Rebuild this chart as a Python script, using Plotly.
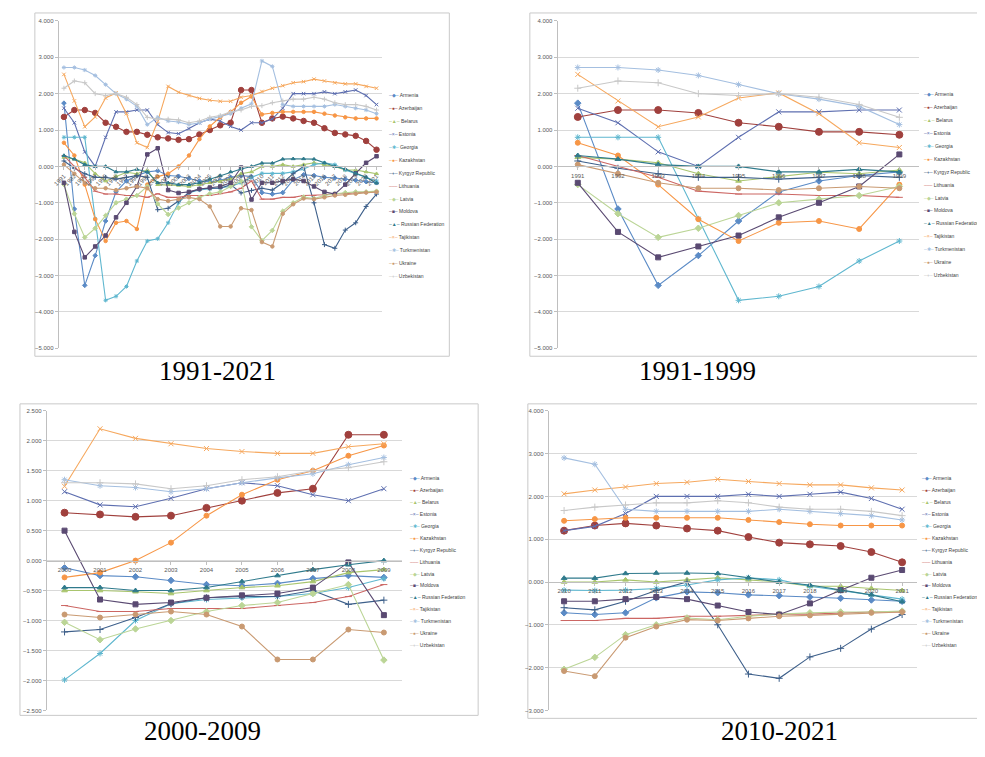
import plotly.graph_objects as go

W, H = 985, 757

countries = ["Armenia", "Azerbaijan", "Belarus", "Estonia", "Georgia", "Kazakhstan",
             "Kyrgyz Republic", "Lithuania", "Latvia", "Moldova", "Russian Federation",
             "Tajikistan", "Turkmenistan", "Ukraine", "Uzbekistan"]
years = [str(y) for y in range(1991, 2022)]

# values, 1991..2021
armenia = [1.74, -1.17, -3.27, -2.45, -1.50, -0.70, -0.40, -0.25, -0.15,
           -0.12, -0.25, -0.27, -0.33, -0.40, -0.42, -0.38, -0.30, -0.25, -0.28,
           -0.72, -0.76, -0.72, -0.37, -0.23, -0.25, -0.30, -0.32, -0.35, -0.38, -0.42, -0.45]
azerbaijan = [1.36, 1.55, 1.55, 1.47, 1.20, 1.09, 0.95, 0.95, 0.87,
              0.80, 0.77, 0.73, 0.75, 0.88, 1.00, 1.13, 1.20, 2.10, 2.10,
              1.20, 1.32, 1.37, 1.32, 1.25, 1.20, 1.05, 0.92, 0.88, 0.84, 0.70, 0.46]
belarus = [0.25, 0.20, 0.10, -0.20, -0.40, -0.27, -0.16, -0.20, -0.10,
           -0.50, -0.50, -0.52, -0.55, -0.50, -0.45, -0.42, -0.35, -0.20, -0.15,
           0.00, 0.00, 0.05, 0.00, 0.05, 0.10, 0.05, 0.00, -0.10, -0.10, -0.15, -0.20]
estonia = [1.60, 1.20, 0.40, 0.00, 0.80, 1.50, 1.50, 1.55, 1.55,
           1.15, 0.93, 0.90, 1.04, 1.20, 1.30, 1.25, 1.10, 1.00, 1.20,
           1.20, 1.30, 1.60, 2.00, 2.00, 2.00, 2.05, 2.00, 2.05, 2.10, 1.95, 1.70]
georgia = [0.80, 0.80, 0.80, -1.44, -3.68, -3.57, -3.30, -2.60, -2.05,
           -1.99, -1.55, -1.00, -0.72, -0.65, -0.62, -0.60, -0.55, -0.45, -0.30,
           -0.19, -0.20, -0.19, -0.15, -0.07, 0.05, 0.10, 0.05, -0.10, -0.20, -0.30, -0.40]
kazakhstan = [0.65, 0.30, -0.50, -1.45, -2.05, -1.55, -1.50, -1.72, -0.50,
              -0.28, -0.20, 0.00, 0.30, 0.75, 1.10, 1.35, 1.50, 1.75, 1.92,
              1.43, 1.47, 1.50, 1.50, 1.50, 1.50, 1.45, 1.40, 1.35, 1.32, 1.32, 1.32]
kyrgyz = [0.15, -0.05, -0.20, -0.30, -0.30, -0.35, -0.30, -0.25, -0.30,
          -1.19, -1.15, -0.95, -0.72, -0.62, -0.60, -0.60, -0.50, -0.73, -0.66,
          -0.60, -0.65, -0.45, -0.20, 0.00, -1.00, -2.15, -2.25, -1.75, -1.55, -1.10, -0.76]
lithuania = [0.30, 0.00, -0.30, -0.68, -0.76, -0.76, -0.80, -0.80, -0.85,
             -0.75, -0.85, -0.85, -0.80, -0.80, -0.80, -0.75, -0.70, -0.60, -0.40,
             -0.90, -0.90, -0.85, -0.85, -0.80, -0.80, -0.78, -0.75, -0.75, -0.72, -0.70, -0.70]
latvia = [-0.50, -1.30, -1.95, -1.70, -1.35, -1.00, -0.90, -0.80, -0.55,
          -1.03, -1.32, -1.14, -1.00, -0.85, -0.75, -0.70, -0.55, -0.40, -1.66,
          -2.04, -1.76, -1.23, -1.00, -0.84, -0.88, -0.80, -0.75, -0.72, -0.70, -0.70, -0.68]
moldova = [-0.45, -1.80, -2.50, -2.20, -1.90, -1.40, -1.00, -0.55, 0.33,
           0.50, -0.65, -0.73, -0.70, -0.62, -0.58, -0.55, -0.45, -0.03, -0.91,
           -0.45, -0.45, -0.40, -0.35, -0.40, -0.55, -0.70, -0.76, -0.50, -0.19, 0.10, 0.28]
russia = [0.30, 0.20, 0.05, 0.00, 0.00, -0.15, -0.15, -0.08, -0.15,
          -0.45, -0.45, -0.50, -0.50, -0.45, -0.35, -0.25, -0.15, -0.07, 0.00,
          0.09, 0.09, 0.20, 0.21, 0.21, 0.20, 0.10, 0.00, -0.07, -0.19, -0.30, -0.46]
tajikistan = [2.53, 1.80, 1.09, 1.36, 1.88, 2.02, 1.45, 0.65, 0.52,
              1.24, 2.20, 2.04, 1.95, 1.87, 1.82, 1.79, 1.79, 1.90, 1.95,
              2.06, 2.15, 2.22, 2.30, 2.33, 2.40, 2.35, 2.30, 2.27, 2.27, 2.20, 2.15]
turkmenistan = [2.72, 2.72, 2.65, 2.50, 2.25, 2.00, 1.85, 1.65, 1.15,
                1.35, 1.25, 1.22, 1.15, 1.20, 1.30, 1.38, 1.45, 1.60, 1.72,
                2.90, 2.75, 1.70, 1.65, 1.65, 1.65, 1.65, 1.70, 1.65, 1.60, 1.55, 1.45]
ukraine = [0.05, -0.20, -0.45, -0.60, -0.60, -0.65, -0.60, -0.55, -0.60,
           -0.90, -0.95, -0.90, -0.85, -0.90, -1.10, -1.65, -1.65, -1.15, -1.20,
           -2.08, -2.20, -1.30, -1.04, -0.88, -0.90, -0.85, -0.80, -0.78, -0.75, -0.72, -0.70]
uzbekistan = [2.15, 2.35, 2.30, 2.00, 1.95, 2.00, 1.90, 1.70, 1.35,
              1.30, 1.30, 1.28, 1.20, 1.25, 1.35, 1.40, 1.50, 1.55, 1.65,
              1.67, 1.75, 1.80, 1.85, 1.85, 1.90, 1.85, 1.75, 1.70, 1.70, 1.65, 1.55]

series = [armenia, azerbaijan, belarus, estonia, georgia, kazakhstan, kyrgyz, lithuania,
          latvia, moldova, russia, tajikistan, turkmenistan, ukraine, uzbekistan]

colors = ["#5B8BC6", "#A0403D", "#A9C56E", "#5E6FB0", "#5FB7CF", "#F79646", "#3D5F8A",
          "#CC6663", "#BBD596", "#5A4A72", "#2F7A8C", "#F6A85E", "#A4BFE0", "#C99A72", "#C8C8C8"]
symbols = ["diamond", "circle", "triangle-up", "x-thin-open", "asterisk-open", "circle",
           "cross-thin-open", "line-ew-open", "diamond", "square", "triangle-up",
           "x-thin-open", "asterisk-open", "circle", "cross-thin-open"]
glyphs = ["◆", "●", "▲", "×", "✱", "●", "+", "–", "◆", "■", "▲", "×", "✱", "●", "+"]

# panel layout in pixels: plot box (l, t, r, b), frame, y scale, legend, caption
panels = [
    dict(caption="1991-2021", first="1991", last="2021", box=(45, 10, 370, 340),
         frame=(21, 2, 438, 348), ymin=-5, ymax=4, step=1, leg=(375, 85, 13.0),
         cap=(205, 363), angle=-45, msize=3.5),
    dict(caption="1991-1999", first="1991", last="1999", box=(547, 10, 911, 340),
         frame=(519, 2, 980, 348), ymin=-5, ymax=4, step=1, leg=(914, 84, 13.0),
         cap=(688, 363), angle=0, msize=5),
    dict(caption="2000-2009", first="2000", last="2009", box=(33, 403, 390, 705),
         frame=(6, 396, 467, 710), ymin=-2.5, ymax=2.5, step=0.5, leg=(396, 471, 12.0),
         cap=(190, 726), angle=0, msize=5),
    dict(caption="2010-2021", first="2010", last="2021", box=(538, 403, 909, 705),
         frame=(517, 396, 980, 713), ymin=-3, ymax=4, step=1, leg=(912, 471, 12.0),
         cap=(770, 726), angle=0, msize=5),
]


def px_x(v):
    return v / W


def px_y(v):
    return 1 - v / H


fig = go.Figure()
shapes = []
annotations = []
tick_font = dict(family="Liberation Sans", size=6, color="#595959")

for k, p in enumerate(panels, start=1):
    i0, i1 = years.index(p["first"]), years.index(p["last"]) + 1
    xs = years[i0:i1]
    for name, vals, col, sym in zip(countries, series, colors, symbols):
        big = name == "Azerbaijan"
        fig.add_trace(go.Scatter(
            x=xs, y=vals[i0:i1], name=name, mode="lines+markers",
            line=dict(color=col, width=1.1),
            marker=dict(symbol=sym, size=p["msize"] + (2 if big else 0), color=col,
                        line=dict(color=col, width=1)),
            xaxis=f"x{k}", yaxis=f"y{k}", showlegend=False))

    l, t, r, b = p["box"]
    ydom = [px_y(b), px_y(t)]
    zero_pos = ydom[0] + (0 - p["ymin"]) / (p["ymax"] - p["ymin"]) * (ydom[1] - ydom[0])
    fig.update_layout({
        f"xaxis{k}": dict(domain=[px_x(l), px_x(r)], type="category", anchor="free",
                          position=zero_pos, showgrid=False, showline=True,
                          linecolor="#BFBFBF", ticks="outside", ticklen=3,
                          tickcolor="#BFBFBF", tickangle=p["angle"], tickfont=tick_font,
                          range=[-0.5, len(xs) - 0.5], fixedrange=True),
        f"yaxis{k}": dict(domain=ydom, anchor=f"x{k}", range=[p["ymin"], p["ymax"]],
                          dtick=p["step"], tick0=0, tickformat=".3f", showgrid=True,
                          gridcolor="#D9D9D9", gridwidth=1, zeroline=False, showline=True,
                          linecolor="#BFBFBF", ticks="outside", ticklen=3,
                          tickcolor="#BFBFBF", tickfont=tick_font, fixedrange=True),
    })

    fl, ft, fr, fb = p["frame"]
    shapes.append(dict(type="rect", xref="paper", yref="paper",
                       x0=px_x(fl), x1=px_x(fr), y0=px_y(fb), y1=px_y(ft),
                       line=dict(color="#C9C9C9", width=1), layer="below"))

    lx, ly, gap = p["leg"]
    for j, (name, col, g) in enumerate(zip(countries, colors, glyphs)):
        annotations.append(dict(
            xref="paper", yref="paper", x=px_x(lx), y=px_y(ly + j * gap),
            xanchor="left", yanchor="middle", showarrow=False,
            text=f'<span style="color:{col}">–{g}–</span> {name}',
            font=dict(family="Liberation Sans", size=5, color="#404040")))

    cx, cy = p["cap"]
    annotations.append(dict(xref="paper", yref="paper", x=px_x(cx), y=px_y(cy),
                            xanchor="center", yanchor="middle", showarrow=False,
                            text=p["caption"],
                            font=dict(family="Liberation Serif", size=27, color="#000000")))

fig.update_layout(width=W, height=H, margin=dict(l=0, r=0, t=0, b=0),
                  paper_bgcolor="white", plot_bgcolor="white",
                  shapes=shapes, annotations=annotations, showlegend=False)

fig.write_html("out.html")
